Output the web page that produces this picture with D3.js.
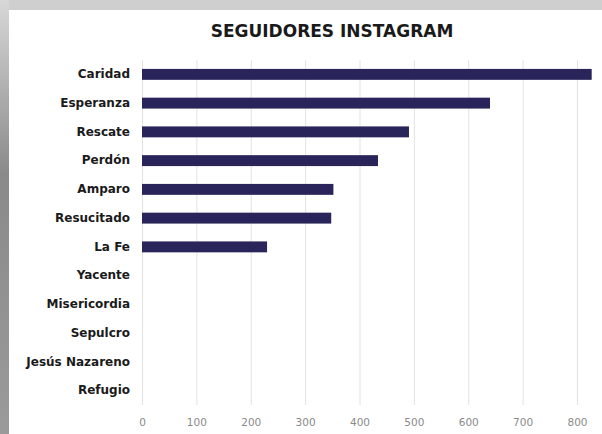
<!DOCTYPE html>
<html>
<head>
<meta charset="utf-8">
<script src="https://cdn.jsdelivr.net/npm/d3@7"></script>
<style>
  body { margin: 0; background: #fff; }
  svg { display: block; }
</style>
</head>
<body>
<div id="chart"></div>
<script>
const categories = ['Caridad', 'Esperanza', 'Rescate', 'Perdón', 'Amparo', 'Resucitado', 'La Fe',
    'Yacente', 'Misericordia', 'Sepulcro', 'Jesús Nazareno', 'Refugio'];
const followers = [827, 640, 491, 434, 352, 348, 230, 0, 0, 0, 0, 0];
const ticks = [0, 100, 200, 300, 400, 500, 600, 700, 800];

const width = 602;
const height = 434;
const margin = { top: 60, right: 25, bottom: 29, left: 142 };

const svg = d3.select('#chart')
    .append('svg')
    .attr('width', width)
    .attr('height', height);

// photo edges around the slide
const defs = svg.append('defs');
const grad = defs.append('linearGradient').attr('id', 'leftEdge')
    .attr('x1', 0).attr('x2', 0).attr('y1', 0).attr('y2', 1);
grad.append('stop').attr('offset', '0%').attr('stop-color', '#d8d8d8');
grad.append('stop').attr('offset', '40%').attr('stop-color', '#8a8a8a');
grad.append('stop').attr('offset', '100%').attr('stop-color', '#9a9a9a');
svg.append('rect').attr('x', 0).attr('y', 0).attr('width', width).attr('height', 10).attr('fill', '#cfcfcf');
svg.append('rect').attr('x', 0).attr('y', 0).attr('width', 9).attr('height', height).attr('fill', 'url(#leftEdge)');

const x = d3.scaleLinear()
    .domain([0, 800])
    .range([margin.left, 577]);

const y = d3.scaleBand()
    .domain(categories)
    .range([margin.top, height - margin.bottom])
    .paddingInner(0.62)
    .paddingOuter(0.31);

svg.append('text')
    .attr('x', 332)
    .attr('y', 37)
    .attr('text-anchor', 'middle')
    .attr('font-family', 'DejaVu Sans')
    .attr('font-weight', 'bold')
    .attr('font-size', '17px')
    .attr('fill', '#1a1a1a')
    .text('SEGUIDORES INSTAGRAM');

// gridlines + tick labels
svg.append('g')
    .attr('transform', `translate(0,${height - margin.bottom})`)
    .call(d3.axisBottom(x).tickValues(ticks).tickSize(-(height - margin.top - margin.bottom)).tickPadding(14))
    .call(g => g.select('.domain').remove())
    .call(g => g.selectAll('.tick line').attr('stroke', '#e2e2e2'))
    .call(g => g.selectAll('.tick text')
        .attr('font-family', 'DejaVu Sans')
        .attr('font-size', '10.5px')
        .attr('fill', '#8a8a8a'));

svg.append('g')
    .attr('transform', `translate(${margin.left},0)`)
    .call(d3.axisLeft(y).tickSize(0).tickPadding(12))
    .call(g => g.select('.domain').remove())
    .call(g => g.selectAll('.tick text')
        .attr('font-family', 'DejaVu Sans')
        .attr('font-weight', 'bold')
        .attr('font-size', '12px')
        .attr('fill', '#1a1a1a'));

svg.append('g')
    .attr('fill', '#29245a')
    .selectAll('rect')
    .data(categories.filter((c, i) => followers[i] > 0))
    .join('rect')
    .attr('x', x(0))
    .attr('y', d => y(d))
    .attr('width', d => x(followers[categories.indexOf(d)]) - x(0))
    .attr('height', y.bandwidth());
</script>
</body>
</html>
